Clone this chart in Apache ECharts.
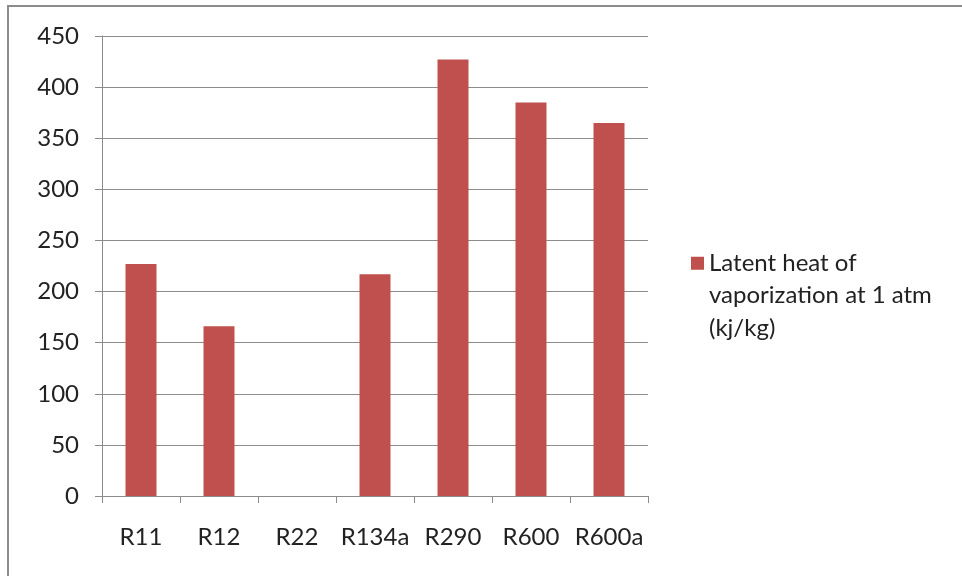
<!DOCTYPE html>
<html><head><meta charset="utf-8">
<script src="https://cdn.jsdelivr.net/npm/echarts@6/dist/echarts.min.js"></script>
<style>html,body{margin:0;padding:0;background:#fff}#c{width:962px;height:576px}</style>
</head><body><div id="c"></div>
<script>
const categories = ['R11','R12','R22','R134a','R290','R600','R600a'];
const values = [227, 166, null, 217, 427, 385, 365];
const seriesName = 'Latent heat of\nvaporization at 1 atm\n(kj/kg)';
const yTicks = {min: 0, max: 450, interval: 50};

const font = 'Lato, "Open Sans", "Liberation Sans", sans-serif';
const chart = echarts.init(document.getElementById('c'), null, {renderer: 'canvas'});
chart.setOption({
  animation: false,
  backgroundColor: '#fff',
  graphic: [{
    type: 'rect', shape: {x: 8, y: 6, width: 1000, height: 700},
    style: {fill: 'none', stroke: '#8c8c8c', lineWidth: 2}, silent: true
  }],
  grid: {left: 102, right: 314, top: 36, bottom: 80, containLabel: false},
  legend: {
    data: [seriesName], left: 691, top: 182, orient: 'vertical', padding: 0,
    icon: 'rect', itemWidth: 13, itemHeight: 13, itemGap: 8,
    formatter: name => '\n\n' + name,
    textStyle: {fontFamily: font, fontSize: 24, color: '#222', lineHeight: 32.5}
  },
  xAxis: {
    type: 'category', data: categories,
    axisLine: {lineStyle: {color: '#8c8c8c', width: 1}},
    axisTick: {show: true, length: 7, alignWithLabel: false, lineStyle: {color: '#8c8c8c'}},
    axisLabel: {fontFamily: font, fontSize: 24, color: '#222', margin: 29, interval: 0}
  },
  yAxis: {
    type: 'value', min: yTicks.min, max: yTicks.max, interval: yTicks.interval,
    axisLine: {show: true, lineStyle: {color: '#8c8c8c', width: 1}},
    axisTick: {show: true, length: 7, lineStyle: {color: '#8c8c8c'}},
    splitLine: {lineStyle: {color: '#8c8c8c', width: 1}},
    axisLabel: {fontFamily: font, fontSize: 24, color: '#222', margin: 23}
  },
  series: [{
    name: seriesName, type: 'bar', data: values,
    barWidth: 31,
    itemStyle: {color: '#c0504d'}
  }]
});
</script></body></html>
